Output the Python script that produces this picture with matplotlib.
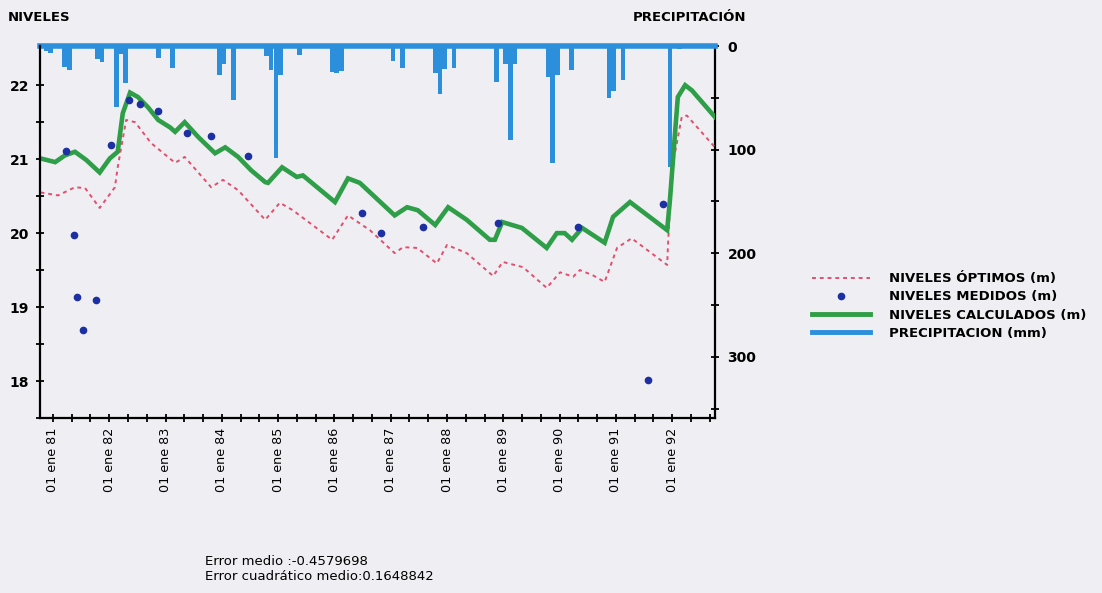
import matplotlib.pyplot as plt
from matplotlib.lines import Line2D

plt.rcParams['font.family'] = ['DejaVu Sans']

# niveles calculados (m)
calc_t = [1980.78, 1981.04, 1981.21, 1981.39, 1981.59, 1981.83, 1982.01, 1982.15, 1982.24, 1982.37,
          1982.51, 1982.69, 1982.87, 1983.08, 1983.17, 1983.34, 1983.58, 1983.88, 1984.06, 1984.29,
          1984.52, 1984.77, 1984.82, 1985.07, 1985.33, 1985.44, 1986.01, 1986.24, 1986.45, 1987.07,
          1987.29, 1987.48, 1987.79, 1988.02, 1988.35, 1988.76, 1988.85, 1988.98, 1989.33, 1989.77,
          1989.95, 1990.09, 1990.22, 1990.40, 1990.80, 1990.95, 1991.25, 1991.91, 1991.96, 1992.05,
          1992.10, 1992.23, 1992.35, 1992.76]
calc_v = [21.01, 20.96, 21.05, 21.10, 20.99, 20.82, 21.01, 21.10, 21.62, 21.90,
          21.84, 21.70, 21.53, 21.43, 21.37, 21.50, 21.30, 21.08, 21.16, 21.03,
          20.85, 20.69, 20.68, 20.89, 20.76, 20.78, 20.42, 20.74, 20.68, 20.24,
          20.35, 20.31, 20.11, 20.35, 20.18, 19.91, 19.91, 20.15, 20.07, 19.80,
          20.00, 20.00, 19.91, 20.07, 19.87, 20.22, 20.42, 20.04, 20.45, 21.35,
          21.84, 22.00, 21.93, 21.57]

# niveles optimos (m)
opt_t = [1980.78, 1981.09, 1981.39, 1981.57, 1981.83, 1982.10, 1982.15, 1982.30, 1982.46, 1982.74,
         1983.17, 1983.34, 1983.81, 1984.02, 1984.29, 1984.77, 1985.03, 1985.26, 1985.96, 1986.24,
         1986.63, 1987.07, 1987.22, 1987.47, 1987.82, 1988.00, 1988.35, 1988.82, 1988.99, 1989.35,
         1989.77, 1990.01, 1990.24, 1990.36, 1990.59, 1990.80, 1991.02, 1991.28, 1991.91, 1991.93,
         1992.00, 1992.17, 1992.26, 1992.76]
opt_v = [20.55, 20.51, 20.62, 20.61, 20.34, 20.62, 20.89, 21.53, 21.50, 21.22,
         20.95, 21.03, 20.62, 20.72, 20.58, 20.18, 20.41, 20.31, 19.91, 20.24,
         20.04, 19.73, 19.81, 19.80, 19.59, 19.84, 19.73, 19.42, 19.61, 19.54,
         19.26, 19.47, 19.41, 19.50, 19.43, 19.34, 19.80, 19.93, 19.57, 19.91,
         20.89, 21.57, 21.59, 21.16]

# niveles medidos (m)
med_t = [1981.23, 1981.37, 1981.43, 1981.53, 1981.76, 1982.03, 1982.35, 1982.55, 1982.87, 1983.38,
         1983.81, 1984.46, 1986.49, 1986.83, 1987.57, 1988.90, 1990.33, 1991.57, 1991.83]
med_v = [21.11, 19.97, 19.14, 18.69, 19.09, 21.19, 21.80, 21.74, 21.65, 21.35,
         21.32, 21.04, 20.27, 20.00, 20.08, 20.14, 20.08, 18.01, 20.39]

# precipitacion mensual (mm)
prec_mes = ['1980-11', '1980-12', '1981-03', '1981-04', '1981-10', '1981-11', '1982-02', '1982-03',
            '1982-04', '1982-11', '1983-02', '1983-12', '1984-01', '1984-03', '1984-10', '1984-11',
            '1984-12', '1985-01', '1985-05', '1985-12', '1986-01', '1986-02', '1987-01', '1987-03',
            '1987-10', '1987-11', '1987-12', '1988-02', '1988-11', '1989-01', '1989-02', '1989-03',
            '1989-10', '1989-11', '1989-12', '1990-03', '1990-11', '1990-12', '1991-02', '1991-12',
            '1992-02']
prec_mm = [5, 7, 20, 23, 13, 15, 59, 8,
           36, 12, 21, 28, 17, 52, 10, 23,
           108, 28, 9, 25, 26, 24, 14, 21,
           26, 46, 22, 21, 35, 17, 91, 17,
           30, 113, 28, 23, 50, 43, 33, 117,
           3]

years = list(range(1981, 1993))
year_labels = ['01 ene %02d' % (y % 100) for y in years]

bg = '#efeef3'
fig = plt.figure(figsize=(11.02, 5.93), dpi=100, facecolor=bg)
ax2 = fig.add_axes([0.0363, 0.2951, 0.6125, 0.6273])
ax2.set_facecolor(bg)
ax = ax2.twinx()
ax.yaxis.tick_left()
ax.set_zorder(ax2.get_zorder() + 1)
ax.patch.set_visible(False)

# precipitacion colgando desde arriba
px = [int(s[:4]) + (int(s[5:]) - 0.5) / 12 for s in prec_mes]
ax2.bar(px, prec_mm, width=1 / 12 * 0.97, color='#2b8fdc', align='center', linewidth=0)
ax2.set_ylim(359, 0)
ax2.yaxis.tick_right()
ax2.set_yticks([0, 100, 200, 300])
ax2.set_yticks([50, 150, 250, 350], minor=True)

ax.plot(opt_t, opt_v, color='#e0506e', lw=1.4, linestyle=(0, (2, 2)))
ax.plot(calc_t, calc_v, color='#2f9e48', lw=3.3, solid_joinstyle='miter')
ax.plot(med_t, med_v, 'o', color='#1c2fa3', ms=4.5, linestyle='none')
ax.set_ylim(17.5, 22.53)
ax.set_yticks([18, 19, 20, 21, 22])
ax.set_yticks([17.5, 18.5, 19.5, 20.5, 21.5], minor=True)

ax2.set_xlim(1980.77, 1992.76)
ax2.set_xticks(years)
ax2.set_xticklabels(year_labels, rotation=90)
ax2.set_xticks([y + k / 3 for y in years for k in (1, 2)], minor=True)

for a in (ax, ax2):
    for s in a.spines.values():
        s.set_visible(False)
ax.spines['left'].set_visible(True)
ax.spines['left'].set_linewidth(1.6)
ax2.spines['right'].set_visible(True)
ax2.spines['right'].set_linewidth(1.6)
ax2.spines['bottom'].set_visible(True)
ax2.spines['bottom'].set_linewidth(1.6)
ax2.spines['top'].set_visible(True)
ax2.spines['top'].set_linewidth(4)
ax2.spines['top'].set_color('#2b8fdc')

for a in (ax, ax2):
    a.tick_params(which='both', direction='inout', length=6, width=1.3, labelsize=10)
ax.tick_params(axis='y', pad=5)
ax2.tick_params(axis='y', pad=6)
ax2.tick_params(axis='x', pad=4, labelsize=9.2)
for lab in ax.get_yticklabels() + ax2.get_yticklabels():
    lab.set_fontweight('bold')

fig.text(0.007, 0.97, 'NIVELES', fontsize=9.5, fontweight='bold', va='center', ha='left')
fig.text(0.677, 0.97, 'PRECIPITACIÓN', fontsize=9.5, fontweight='bold', va='center', ha='right')

handles = [Line2D([], [], color='#e0506e', lw=1.4, linestyle=(0, (2, 2))),
           Line2D([], [], color='#1c2fa3', marker='o', ms=4.5, linestyle='none'),
           Line2D([], [], color='#2f9e48', lw=3.5),
           Line2D([], [], color='#2b8fdc', lw=3.5)]
labels = ['NIVELES ÓPTIMOS (m)', 'NIVELES MEDIDOS (m)', 'NIVELES CALCULADOS (m)', 'PRECIPITACION (mm)']
fig.legend(handles, labels, loc='upper left', bbox_to_anchor=(0.737, 0.541), frameon=False,
           handlelength=4.4, handletextpad=1.4, labelspacing=0.4,
           prop={'size': 9.5, 'weight': 'bold'}, borderaxespad=0, borderpad=0)

fig.text(0.186, 0.04, 'Error medio :-0.4579698\nError cuadrático medio:0.1648842',
         fontsize=9.5, va='center', ha='left', linespacing=1.2)

fig.savefig('out.png', dpi=100, facecolor=bg)
